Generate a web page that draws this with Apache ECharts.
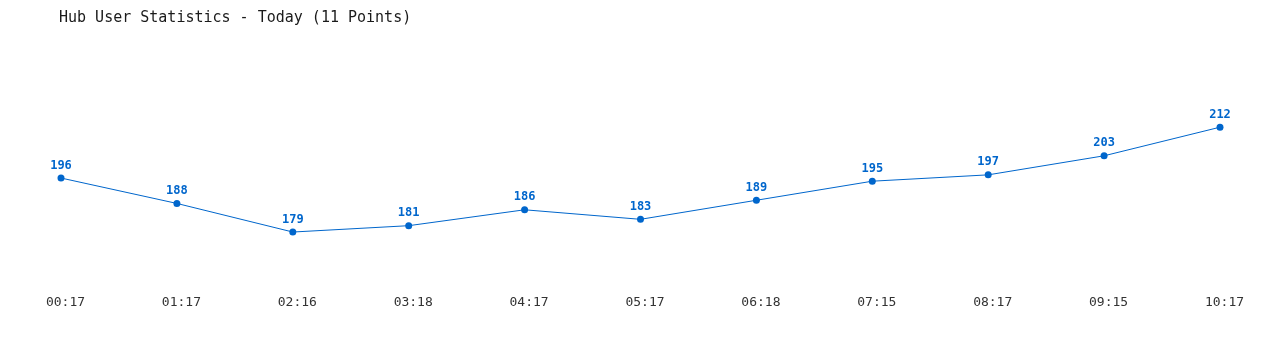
<!DOCTYPE html>
<html>
<head>
<meta charset="utf-8">
<script src="https://cdn.jsdelivr.net/npm/echarts@6/dist/echarts.min.js"></script>
<style>html,body{margin:0;padding:0;background:#fff}#c{width:1280px;height:350px}</style>
</head>
<body>
<div id="c"></div>
<script>
const titleText = 'Hub User Statistics - Today (11 Points)';
const times = ['00:17','01:17','02:16','03:18','04:17','05:17','06:18','07:15','08:17','09:15','10:17'];
const users = [196, 188, 179, 181, 186, 183, 189, 195, 197, 203, 212];

const chart = echarts.init(document.getElementById('c'), null, {renderer: 'canvas'});
chart.setOption({
  animation: false,
  backgroundColor: '#ffffff',
  title: {
    text: titleText,
    left: 59, top: 11, padding: 0,
    textStyle: {fontFamily: 'DejaVu Sans Mono', fontSize: 15, fontWeight: 'normal', color: '#1a1a1a'}
  },
  grid: {left: 61, right: 60, top: 70, bottom: 57.6, containLabel: false, outerBoundsMode: 'none'},
  xAxis: {
    type: 'category', data: times, boundaryGap: false,
    axisLine: {show: false}, axisTick: {show: false}, splitLine: {show: false},
    axisLabel: {interval: 0, margin: 4, padding: [0, 0, 0, 9], fontFamily: 'DejaVu Sans Mono', fontSize: 13, color: '#333'}
  },
  yAxis: {
    type: 'value', min: 160, max: 230, show: false, splitLine: {show: false}
  },
  series: [{
    type: 'line', data: users,
    symbol: 'circle', symbolSize: 7,
    lineStyle: {color: '#0066cc', width: 1},
    itemStyle: {color: '#0066cc'},
    label: {show: true, position: 'top', distance: 3, fontFamily: 'DejaVu Sans Mono', fontSize: 12, fontWeight: 'bold', color: '#0066cc'}
  }]
});
</script>
</body>
</html>
